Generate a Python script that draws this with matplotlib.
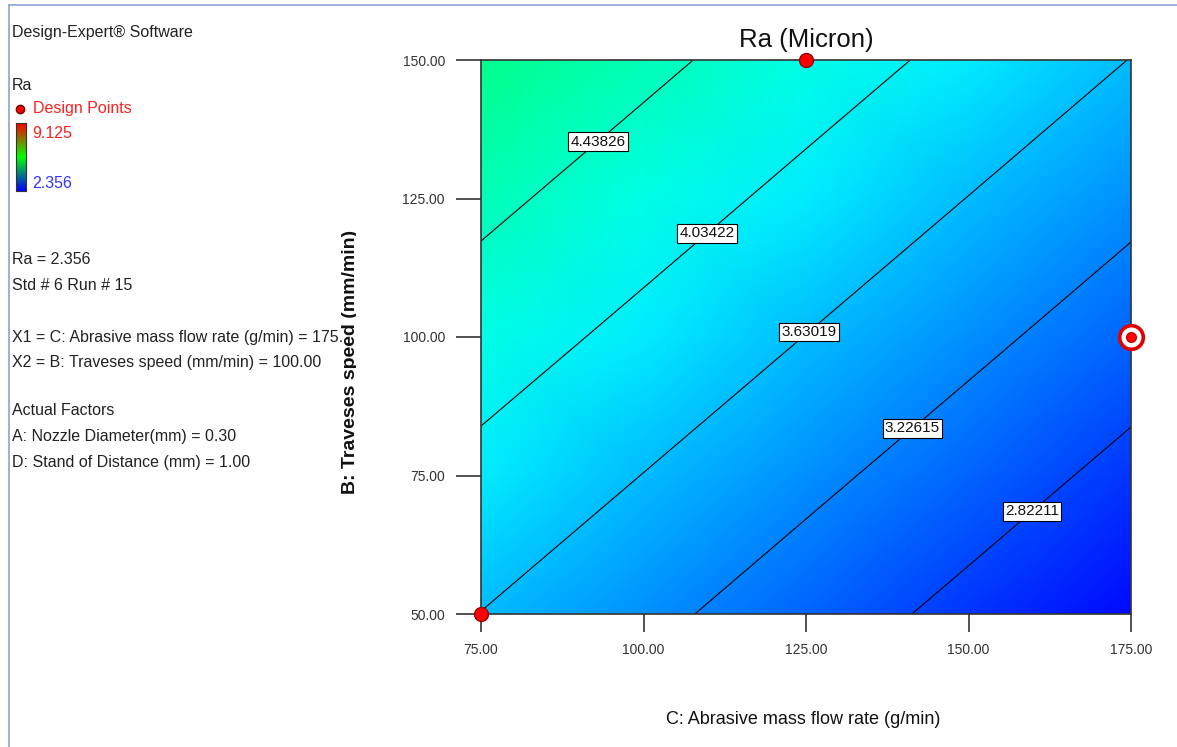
import numpy as np
import matplotlib
matplotlib.use("Agg")
import matplotlib.pyplot as plt
from matplotlib.colors import LinearSegmentedColormap
from matplotlib.transforms import Bbox, TransformedBbox
from matplotlib.lines import Line2D

plt.rcParams['font.family'] = ['Liberation Sans', 'DejaVu Sans']

# factor grid (C: abrasive mass flow rate, B: traverse speed)
flow_rate = [75, 100, 125, 150, 175]
trav_speed = [50, 75, 100, 125, 150]
# Ra, rows = traverse speed, cols = flow rate
ra_grid = [
    [3.624, 3.322, 3.019, 2.717, 2.414],
    [3.926, 3.624, 3.321, 3.019, 2.716],
    [4.229, 3.927, 3.624, 3.322, 3.019],
    [4.531, 4.229, 3.926, 3.624, 3.321],
    [4.833, 4.531, 4.228, 3.926, 3.623],
]
contour_levels = [2.82211, 3.22615, 3.63019, 4.03422, 4.43826]
label_spots = [(159.2, 69.3), (140.8, 84.3), (124.8, 101.8), (109.2, 119.5), (92.5, 135.9)]
design_x = [75, 125]
design_y = [50, 150]
current_pt = (175, 100)
ra_min, ra_max = 2.356, 9.125

info_lines = [
    ("Ra = 2.356", 260),
    ("Std # 6 Run # 15", 286),
    ("X1 = C: Abrasive mass flow rate (g/min) = 175.", 337),
    ("X2 = B: Traveses speed (mm/min) = 100.00", 362),
    ("Actual Factors", 411),
    ("A: Nozzle Diameter(mm) = 0.30", 436),
    ("D: Stand of Distance (mm) = 1.00", 462),
]

W, H = 1177, 747
fx = lambda px: px / W
fy = lambda py: 1 - py / H

de_cmap = LinearSegmentedColormap.from_list(
    "de", [(0, 0, 1), (0, 1, 1), (0, 1, 0), (1, 1, 0), (1, 0, 0)])
bar_cmap = LinearSegmentedColormap.from_list("bar", [(0, 0, 1), (0, 1, 0), (1, 0, 0)])

fig = plt.figure(figsize=(W / 100, H / 100), dpi=100)
txt = '#222222'

# frame lines at top and left
fig.add_artist(Line2D([fx(9), 1], [fy(5), fy(5)], color='#8aa4d6', lw=1.2))
fig.add_artist(Line2D([fx(9), fx(9)], [fy(5), 0], color='#8aa4d6', lw=1.2))

ax = fig.add_axes([fx(481), fy(614), fx(1131) - fx(481), fy(60) - fy(614)])
X, Y = np.meshgrid(flow_rate, trav_speed)
Z = np.array(ra_grid)
ax.pcolormesh(X, Y, Z, shading='gouraud', cmap=de_cmap, vmin=ra_min, vmax=ra_max)
cs = ax.contour(X, Y, Z, levels=contour_levels, colors='black', linewidths=0.8)
labs = ax.clabel(cs, fmt={l: f"{l:.5f}" for l in contour_levels}, inline=False,
                 fontsize=11, manual=label_spots, colors='#111111')
for t in labs:
    t.set_rotation(0)
    t.set_bbox(dict(boxstyle='square,pad=0.15', fc='white', ec='black', lw=0.8))

ax.plot(design_x, design_y, 'o', ms=10, mfc='#ff0000', mec='#990000', mew=1,
        clip_on=False, zorder=10)
ax.plot(*current_pt, 'o', ms=17, mfc='white', mec='#e00000', mew=2.6, clip_on=False, zorder=10)
ax.plot(*current_pt, 'o', ms=7, mfc='#ff0000', mec='#cc0000', clip_on=False, zorder=11)

ax.set_xlim(75, 175)
ax.set_ylim(50, 150)
ax.set_xticks(flow_rate)
ax.set_yticks(trav_speed)
ax.set_xticklabels([f"{v:.2f}" for v in flow_rate])
ax.set_yticklabels([f"{v:.2f}" for v in trav_speed])
ax.tick_params(axis='x', length=13, width=1.2, pad=8, labelsize=10, colors='#333333')
ax.tick_params(axis='y', length=18, width=1.2, pad=8, labelsize=10, colors='#333333')
for s in ax.spines.values():
    s.set_color('#333333')
    s.set_linewidth(1.2)

fig.text(fx(806), fy(40), "Ra (Micron)", fontsize=18.5, ha='center', va='center', color='#111111')
fig.text(fx(803), fy(720), "C: Abrasive mass flow rate (g/min)", fontsize=13,
         ha='center', va='center', color='#111111')
yl = fig.text(fx(355), fy(362), "B: Traveses speed (mm/min)", fontsize=14, fontweight='bold',
              rotation=90, rotation_mode='anchor', ha='center', va='baseline', color='#111111')
yl.set_clip_box(TransformedBbox(Bbox([[0, 0], [fx(356), 1]]), fig.transFigure))
yl.set_clip_on(True)

# left info panel
fig.text(fx(12), fy(33), "Design-Expert\u00ae Software", fontsize=11.5, va='center', color=txt)
fig.text(fx(12), fy(85), "Ra", fontsize=11.5, va='center', color=txt)
fig.add_artist(Line2D([fx(20)], [fy(109)], marker='o', ms=6, mfc='#ff0000', mec='#660000'))
fig.text(fx(33), fy(109), "Design Points", fontsize=11.5, va='center', color='#ff2020')
cax = fig.add_axes([fx(16), fy(191), fx(26) - fx(16), fy(123) - fy(191)])
cax.imshow(np.linspace(1, 0, 100).reshape(-1, 1), aspect='auto', cmap=bar_cmap)
cax.set_xticks([])
cax.set_yticks([])
for s in cax.spines.values():
    s.set_color('#333333')
fig.text(fx(32), fy(133), "9.125", fontsize=11.5, va='center', color='#ff2020')
fig.text(fx(32), fy(184), "2.356", fontsize=11.5, va='center', color='#3333ff')
for s, py in info_lines:
    fig.text(fx(12), fy(py), s, fontsize=11.5, va='center', color=txt)

fig.savefig("out.png", dpi=100)
